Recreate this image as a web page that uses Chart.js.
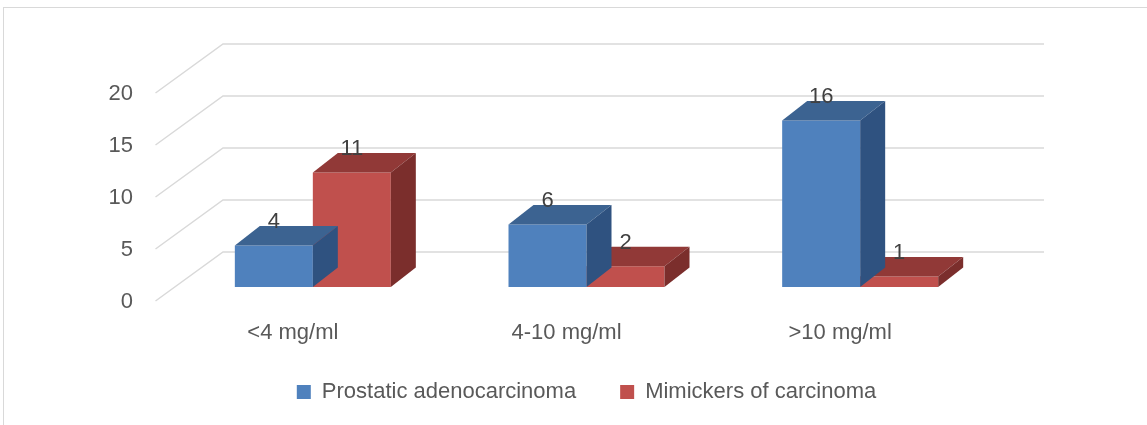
<!DOCTYPE html>
<html>
<head>
<meta charset="utf-8">
<script src="https://cdn.jsdelivr.net/npm/chart.js@4.4.1/dist/chart.umd.min.js"></script>
<style>
  html, body { margin: 0; padding: 0; background: #ffffff; overflow: hidden; }
  #frame { position: absolute; left: 3px; top: 7px; width: 1300px; height: 600px; border: 1px solid #d9d9d9; box-sizing: border-box; }
  #c { position: absolute; left: 0; top: 0; }
</style>
</head>
<body>
<div id="frame"></div>
<canvas id="c" width="1147" height="425"></canvas>
<script>
const categories = ['<4 mg/ml', '4-10 mg/ml', '>10 mg/ml'];
const seriesNames = ['Prostatic adenocarcinoma', 'Mimickers of carcinoma'];
const adenocarcinoma = [4, 6, 16];
const mimickers = [11, 2, 1];
const yTicks = [0, 5, 10, 15, 20];

const FONT = '"Liberation Sans", Arial, sans-serif';
const frontColors = ['#4F81BD', '#C0504D'];
const topColors = ['#3C6391', '#913937'];
const sideColors = ['#2F5280', '#7B2E2C'];
const DEPTH = { dx: 25, dy: 19.5 };
const BACK = { dx: 47, dy: -35 };
const FRONT = { dx: -20.5, dy: 14 };

const wallPlugin = {
  id: 'wall3d',
  beforeDatasetsDraw(chart) {
    const { ctx, chartArea } = chart;
    const ys = chart.scales.y;
    ctx.save();
    ctx.strokeStyle = '#d9d9d9';
    ctx.lineWidth = 1.5;
    yTicks.forEach(v => {
      const py = ys.getPixelForValue(v);
      ctx.beginPath();
      ctx.moveTo(chartArea.left + FRONT.dx, py + FRONT.dy);
      ctx.lineTo(chartArea.left + BACK.dx, py + BACK.dy);
      ctx.lineTo(chartArea.right + BACK.dx, py + BACK.dy);
      ctx.stroke();
    });
    ctx.restore();
  },
  afterDatasetDraw(chart, args) {
    const { ctx } = chart;
    const i = args.index;
    const meta = chart.getDatasetMeta(i);
    ctx.save();
    meta.data.forEach(bar => {
      const p = bar.getProps(['x', 'y', 'base', 'width'], true);
      const l = p.x - p.width / 2, r = p.x + p.width / 2;
      ctx.fillStyle = topColors[i];
      ctx.beginPath();
      ctx.moveTo(l, p.y);
      ctx.lineTo(l + DEPTH.dx, p.y - DEPTH.dy);
      ctx.lineTo(r + DEPTH.dx, p.y - DEPTH.dy);
      ctx.lineTo(r, p.y);
      ctx.closePath();
      ctx.fill();
      ctx.fillStyle = sideColors[i];
      ctx.beginPath();
      ctx.moveTo(r, p.y);
      ctx.lineTo(r + DEPTH.dx, p.y - DEPTH.dy);
      ctx.lineTo(r + DEPTH.dx, p.base - DEPTH.dy);
      ctx.lineTo(r, p.base);
      ctx.closePath();
      ctx.fill();
    });
    ctx.restore();
  },
  afterDatasetsDraw(chart) {
    const { ctx } = chart;
    ctx.save();
    ctx.font = '22px ' + FONT;
    ctx.fillStyle = '#404040';
    ctx.textAlign = 'center';
    ctx.textBaseline = 'middle';
    chart.data.datasets.forEach((ds, i) => {
      const meta = chart.getDatasetMeta(i);
      meta.data.forEach((bar, j) => {
        const p = bar.getProps(['x', 'y'], true);
        ctx.fillText(String(ds.data[j]), p.x, p.y - DEPTH.dy - 4);
      });
    });
    ctx.restore();
  }
};

new Chart(document.getElementById('c'), {
  type: 'bar',
  data: {
    labels: categories,
    datasets: [
      { label: seriesNames[0], data: adenocarcinoma, backgroundColor: frontColors[0], borderWidth: 0 },
      { label: seriesNames[1], data: mimickers, backgroundColor: frontColors[1], borderWidth: 0 }
    ]
  },
  options: {
    responsive: false,
    animation: false,
    layout: { padding: { left: 90, right: 150, top: 79, bottom: 12 } },
    datasets: { bar: { barPercentage: 1, categoryPercentage: 0.57 } },
    scales: {
      x: {
        grid: { display: false },
        border: { display: false },
        ticks: { font: { family: FONT, size: 22 }, color: '#595959', mirror: true, padding: -59, labelOffset: -20, maxRotation: 0 },
        afterFit(s) { s.height = 50; }
      },
      y: {
        min: 0, max: 20,
        grid: { display: false, drawTicks: false },
        border: { display: false },
        ticks: { stepSize: 5, font: { family: FONT, size: 22 }, color: '#595959', padding: 43, labelOffset: 15 },
        afterFit(s) { s.width = 86; }
      }
    },
    plugins: {
      legend: {
        position: 'bottom',
        fullSize: false,
        labels: { boxWidth: 14, boxHeight: 14, padding: 44, color: '#595959', font: { family: FONT, size: 22 } }
      },
      tooltip: { enabled: false }
    }
  },
  plugins: [wallPlugin]
});
</script>
</body>
</html>
